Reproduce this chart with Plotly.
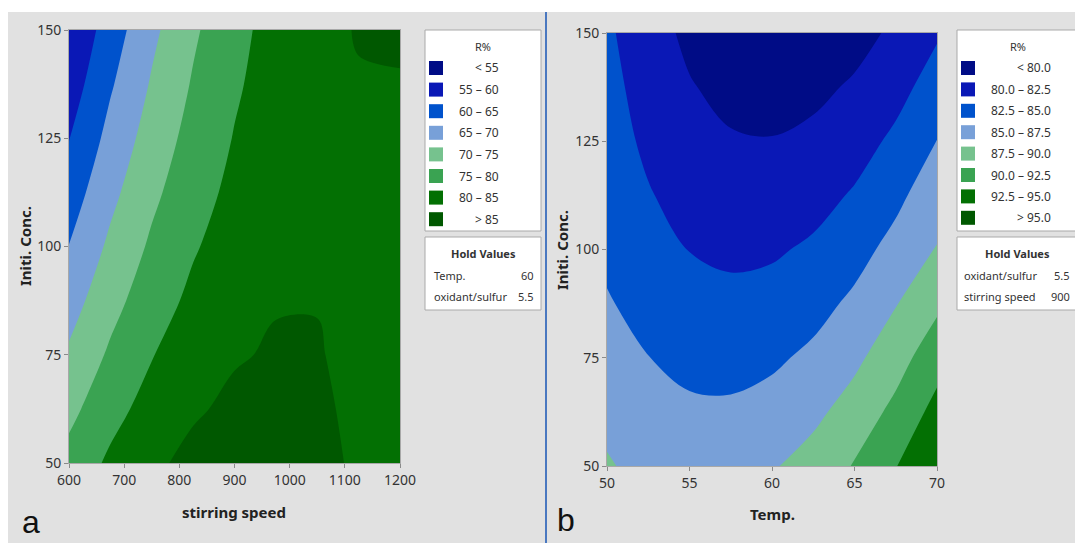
import plotly.graph_objects as go

# ---------------- data ----------------
# panel a: stirring speed (x) vs initial concentration (y)
speed_a = [600, 675, 750, 825, 900, 975, 1050, 1125, 1200]
conc_a = [50, 62.5, 75, 87.5, 100, 112.5, 125, 137.5, 150]
z_a = [
    [76.65, 80.90, 84.09, 86.23, 87.32, 87.36, 86.34, 84.27, 81.15],
    [73.64, 78.29, 81.88, 84.43, 85.92, 86.36, 85.75, 84.08, 81.37],
    [70.71, 75.76, 79.77, 82.71, 84.61, 85.45, 85.25, 83.98, 81.67],
    [67.87, 73.32, 77.73, 81.08, 83.38, 84.75, 84.88, 83.97, 82.06],
    [65.11, 70.97, 75.78, 79.54, 82.24, 83.89, 84.49, 84.04, 82.53],
    [62.45, 68.71, 73.92, 78.08, 81.19, 83.25, 84.25, 84.20, 83.10],
    [59.87, 66.54, 72.16, 76.72, 80.23, 82.69, 84.10, 84.45, 83.75],
    [57.38, 64.45, 70.47, 75.44, 79.35, 82.21, 84.02, 84.78, 84.75],
    [55.30, 62.45, 68.87, 74.24, 78.56, 81.83, 84.04, 85.20, 85.60],
]
levels_a = [55, 60, 65, 70, 75, 80, 85]
xticks_a = [600, 700, 800, 900, 1000, 1100, 1200]
yticks = [50, 75, 100, 125, 150]
hold_a_names = ["Temp.", "oxidant/sulfur"]
hold_a_vals = ["60", "5.5"]

# panel b: temperature (x) vs initial concentration (y)
temp_b = [50, 52.5, 55, 57.5, 60, 62.5, 65, 67.5, 70]
conc_b = [50, 62.5, 75, 87.5, 100, 112.5, 125, 137.5, 150]
z_b = [
    [87.65, 86.99, 86.55, 86.64, 87.28, 88.45, 90.16, 92.41, 94.80],
    [87.08, 85.98, 85.41, 85.38, 85.90, 86.94, 88.53, 90.65, 93.31],
    [86.27, 85.04, 84.35, 84.20, 84.59, 85.51, 86.98, 88.98, 91.51],
    [85.20, 84.19, 83.37, 83.10, 83.36, 84.16, 85.50, 87.38, 89.50],
    [84.50, 83.39, 82.45, 82.06, 82.20, 82.87, 84.09, 85.84, 87.60],
    [84.00, 82.67, 81.61, 81.09, 81.11, 81.66, 82.75, 84.38, 86.55],
    [83.60, 82.03, 80.85, 80.20, 80.09, 80.52, 81.49, 83.00, 85.04],
    [83.30, 81.46, 80.15, 79.38, 79.15, 79.46, 80.30, 81.68, 83.60],
    [82.92, 80.95, 79.52, 78.63, 78.28, 78.46, 79.18, 80.44, 82.23],
]
levels_b = [80.0, 82.5, 85.0, 87.5, 90.0, 92.5, 95.0]
xticks_b = [50, 55, 60, 65, 70]
hold_b_names = ["oxidant/sulfur", "stirring speed"]
hold_b_vals = ["5.5", "900"]

# ---------------- style ----------------
band_colors = ['#000c86', '#0a18b6', '#0052cc', '#78a0d8', '#76c28e',
               '#3aa352', '#037003', '#005800']
W, H = 1083, 543
OFF = 8  # page body margin of the html page
FONT = "Noto Sans"
TXT = "#333333"


def X(px):
    return (px - OFF) / W


def Y(py):
    return 1 - (py - OFF) / H


def stepped_scale(colors):
    n = len(colors) - 1
    return [[i / n, c] for i, c in enumerate(colors)]


def band_labels(levels, fmt):
    labs = ["< " + fmt.format(levels[0])]
    for lo, hi in zip(levels[:-1], levels[1:]):
        labs.append(fmt.format(lo) + " \u2013 " + fmt.format(hi))
    labs.append("> " + fmt.format(levels[-1]))
    return labs


fig = go.Figure()

fig.add_trace(go.Contour(
    x=speed_a, y=conc_a, z=z_a, xaxis="x", yaxis="y",
    autocontour=False,
    contours=dict(start=levels_a[0], end=levels_a[-1],
                  size=levels_a[1] - levels_a[0],
                  coloring="fill", showlines=False),
    line=dict(width=0, smoothing=1.0),
    colorscale=stepped_scale(band_colors), showscale=False,
    hoverinfo="skip"))

fig.add_trace(go.Contour(
    x=temp_b, y=conc_b, z=z_b, xaxis="x2", yaxis="y2",
    autocontour=False,
    contours=dict(start=levels_b[0], end=levels_b[-1],
                  size=levels_b[1] - levels_b[0],
                  coloring="fill", showlines=False),
    line=dict(width=0, smoothing=1.0),
    colorscale=stepped_scale(band_colors), showscale=False,
    hoverinfo="skip"))

axis_common = dict(showgrid=False, zeroline=False, ticks="outside", ticklen=4,
                   tickcolor="#8a8a8a", showline=True, mirror=True,
                   linecolor="#a8a8a8", linewidth=1, automargin=False,
                   tickfont=dict(family=FONT, size=14, color="#333333"))

fig.update_layout(
    template="none",
    width=W, height=H, margin=dict(l=0, r=0, t=0, b=0, pad=0, autoexpand=False),
    paper_bgcolor="white", plot_bgcolor="#e1e1e1", showlegend=False,
    xaxis=dict(domain=[X(69), X(400)], range=[600, 1200], tickvals=xticks_a,
               anchor="y", **axis_common),
    yaxis=dict(domain=[Y(463), Y(30)], range=[50, 150], tickvals=yticks,
               anchor="x", **axis_common),
    xaxis2=dict(domain=[X(607), X(937)], range=[50, 70], tickvals=xticks_b,
                anchor="y2", **axis_common),
    yaxis2=dict(domain=[Y(466), Y(33)], range=[50, 150], tickvals=yticks,
                anchor="x2", **axis_common),
)

shapes = []
ann = []

# grey panel background and separator
shapes.append(dict(type="rect", xref="paper", yref="paper", x0=X(8), x1=X(1100),
                   y0=Y(560), y1=Y(12), fillcolor="#e1e1e1", line=dict(width=0),
                   layer="below"))
shapes.append(dict(type="line", xref="paper", yref="paper", x0=X(546), x1=X(546),
                   y0=Y(560), y1=Y(12), line=dict(color="#4a78c0", width=2)))


def text(px, py, s, size=12, xanchor="center", bold=False, angle=0, color=TXT,
         family=FONT):
    ann.append(dict(x=X(px), y=Y(py), xref="paper", yref="paper", text=s,
                    showarrow=False, xanchor=xanchor, yanchor="middle",
                    textangle=angle,
                    font=dict(family=family, size=size, color=color,
                              weight="bold" if bold else "normal")))


def legend(x0, x1, levels, fmt, sw_x0, lab_right, row0, dy, names, vals,
           name_left, val_right):
    shapes.append(dict(type="rect", xref="paper", yref="paper", x0=X(x0), x1=X(x1),
                       y0=Y(231), y1=Y(30), fillcolor="white",
                       line=dict(color="#a9a9a9", width=1)))
    shapes.append(dict(type="rect", xref="paper", yref="paper", x0=X(x0), x1=X(x1),
                       y0=Y(310), y1=Y(237), fillcolor="white",
                       line=dict(color="#a9a9a9", width=1)))
    text((x0 + x1) / 2, 46, "R%", size=11)
    labs = band_labels(levels, fmt)
    for i, (lab, col) in enumerate(zip(labs, band_colors)):
        yy = row0 + dy * i
        shapes.append(dict(type="rect", xref="paper", yref="paper",
                           x0=X(sw_x0), x1=X(sw_x0 + 14),
                           y0=Y(yy + 7), y1=Y(yy - 7), fillcolor=col,
                           line=dict(width=0)))
        text(lab_right, yy, lab, size=12, xanchor="right")
    text((x0 + x1) / 2, 253, "Hold Values", size=11, bold=True)
    for j, (n, v) in enumerate(zip(names, vals)):
        yy = 275 + 21 * j
        text(name_left, yy, n, size=11, xanchor="left")
        text(val_right, yy, v, size=11, xanchor="right")


legend(425, 541, levels_a, "{:g}", 429, 501, 68, 21.6, hold_a_names, hold_a_vals,
       432, 536)
legend(957, 1078, levels_b, "{:.1f}", 961, 1053, 68, 21.4, hold_b_names,
       hold_b_vals, 962, 1072)

# axis titles
text(234, 512, "stirring speed", size=15, bold=True, color="#222222")
text(772, 514, "Temp.", size=15, bold=True, color="#222222")
text(25, 246, "Initi. Conc.", size=15, bold=True, angle=-90, color="#222222")
text(562, 250, "Initi. Conc.", size=15, bold=True, angle=-90, color="#222222")

# panel letters
text(31, 522, "a", size=32, family="Liberation Sans", color="#111111")
text(566, 520, "b", size=32, family="Liberation Sans", color="#111111")

fig.update_layout(shapes=shapes, annotations=ann)
fig.write_html("out.html")
